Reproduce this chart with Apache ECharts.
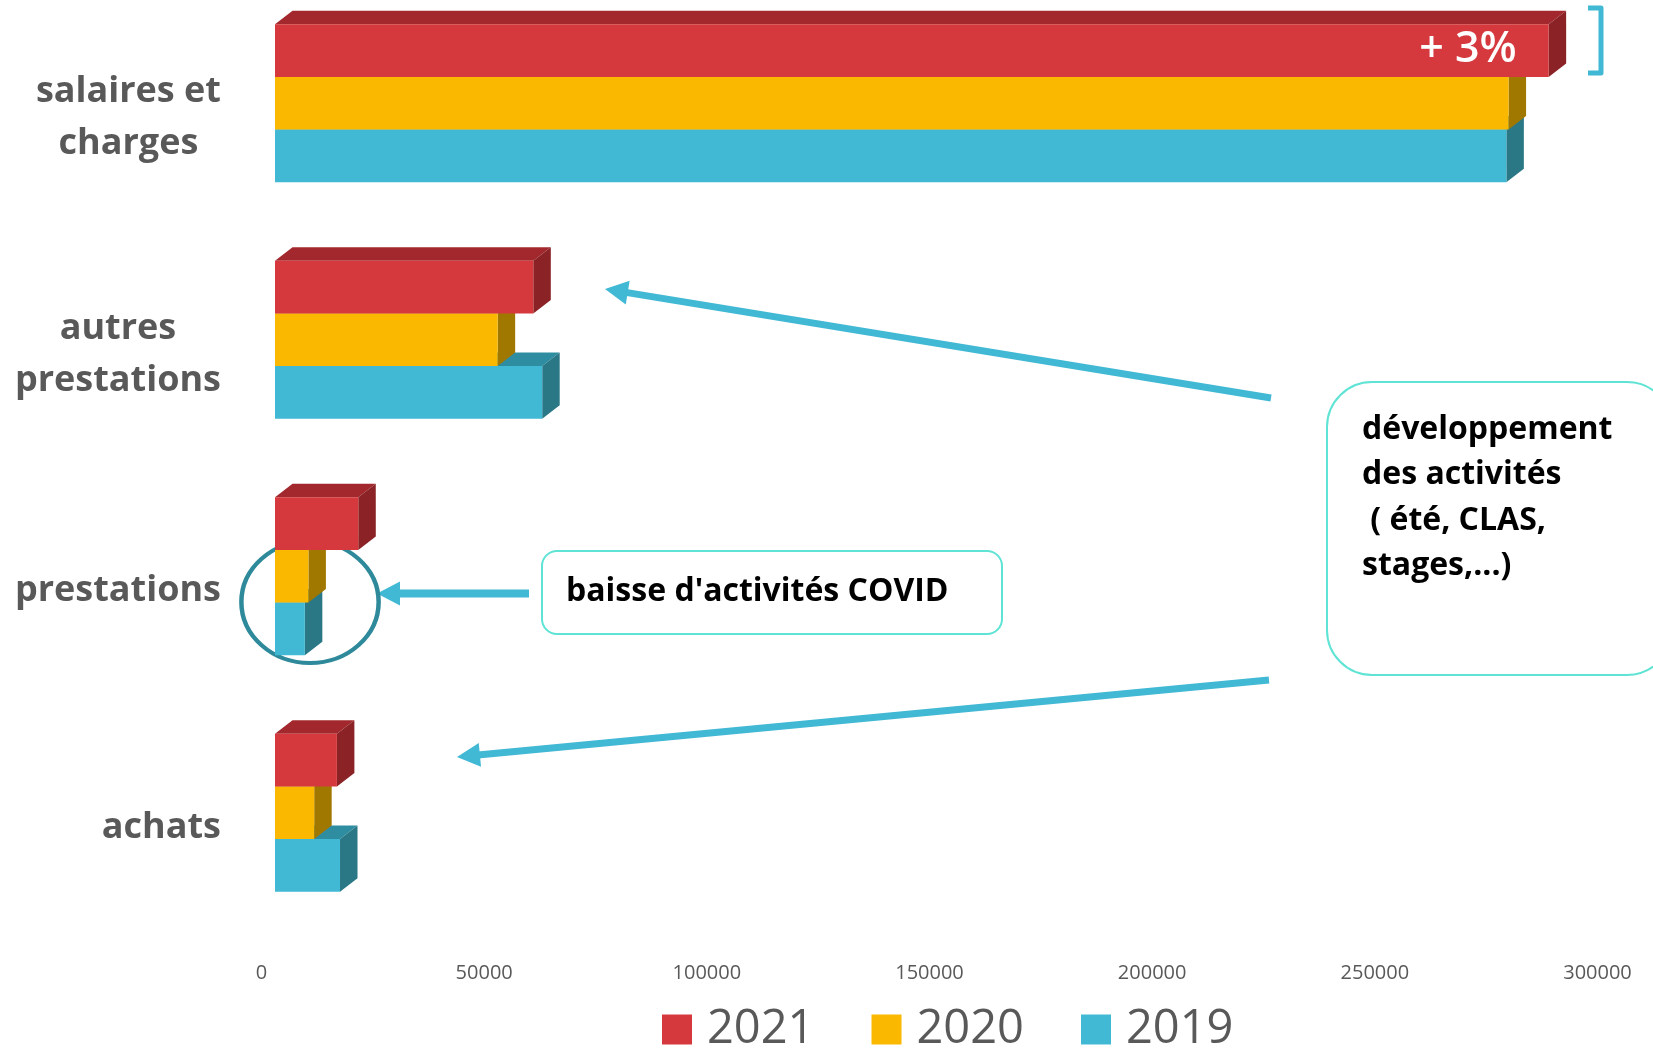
<!DOCTYPE html>
<html>
<head>
<meta charset="utf-8">
<script src="https://cdn.jsdelivr.net/npm/echarts@6/dist/echarts.min.js"></script>
<style>
html, body { margin: 0; padding: 0; background: #fff; }
#chart { width: 1653px; height: 1059px; }
</style>
</head>
<body>
<div id="chart"></div>
<script>
// données
var categories = ['salaires et\ncharges', 'autres\nprestations', 'prestations', 'achats'];
var years = ['2021', '2020', '2019'];
var values2021 = [286000, 58000, 18700, 13900];
var values2020 = [277000, 50000, 7500, 8800];
var values2019 = [276500, 60000, 6700, 14600];
var axisMin = 0, axisMax = 300000, axisStep = 50000;

// couleurs : face, dessus, côté
var colors = {
    '2021': ['#d5383d', '#a2282d', '#8a2226'],
    '2020': ['#fbb800', '#c48f00', '#a07800'],
    '2019': ['#41b9d4', '#2e8da0', '#2a7886']
};

var GAP = 0.332;   // espace entre groupes
var DX = 17.5, DY = 13.5;  // profondeur 3D

function barRender(slot, year) {
    var c = colors[year];
    return function(params, api) {
        var val = api.value(0);
        var cat = api.value(1);
        var start = api.coord([0, cat]);
        var end = api.coord([val, cat]);
        var band = api.size([0, 1])[1];
        var h = band * (1 - GAP) / 3;
        var yT = start[1] - 1.5 * h + slot * h;
        var yB = yT + h;
        var x0 = start[0], x1 = end[0];
        return {
            type: 'group',
            children: [{
                type: 'polygon',
                shape: { points: [[x0, yT], [x1, yT], [x1 + DX, yT - DY], [x0 + DX, yT - DY]] },
                style: { fill: c[1] }
            }, {
                type: 'polygon',
                shape: { points: [[x1, yT], [x1, yB], [x1 + DX, yB - DY], [x1 + DX, yT - DY]] },
                style: { fill: c[2] }
            }, {
                type: 'rect',
                shape: { x: x0, y: yT, width: x1 - x0, height: h },
                style: { fill: c[0] }
            }]
        };
    };
}

function makeSeries(year, slot, values, z) {
    return {
        name: year,
        type: 'custom',
        z: z,
        encode: { x: 0, y: 1 },
        itemStyle: { color: colors[year][0] },
        renderItem: barRender(slot, year),
        data: values.map(function(v, i) { return [v, i]; })
    };
}

// flèches et encadrés
var arrowColor = '#41b8d4';
function arrow(x1, y1, x2, y2, w) {
    var len = Math.sqrt((x2 - x1) * (x2 - x1) + (y2 - y1) * (y2 - y1));
    var ux = (x2 - x1) / len, uy = (y2 - y1) / len;
    var hl = 23, hw = 12;
    var bx = x2 - ux * hl, by = y2 - uy * hl;
    return [{
        type: 'line',
        shape: { x1: x1, y1: y1, x2: bx + ux * 2, y2: by + uy * 2 },
        style: { stroke: arrowColor, lineWidth: w }
    }, {
        type: 'polygon',
        shape: { points: [[x2, y2], [bx - uy * hw, by + ux * hw], [bx + uy * hw, by - ux * hw]] },
        style: { fill: arrowColor }
    }];
}

var graphics = []
    .concat(arrow(1271, 398, 605, 289, 7))
    .concat(arrow(1269, 680, 457, 757, 7))
    .concat(arrow(529, 593.5, 377, 593.5, 8))
    .concat([{
        type: 'circle',
        shape: { cx: 0, cy: 0, r: 61 },
        x: 310, y: 602,
        scaleX: 1.125,
        style: { fill: null, stroke: '#2e8a9a', lineWidth: 4, strokeNoScale: true }
    }, {
        type: 'rect',
        shape: { x: 542, y: 551, width: 460, height: 83, r: 15 },
        style: { fill: '#fff', stroke: '#5fe3d4', lineWidth: 2 }
    }, {
        type: 'text',
        x: 566, y: 592,
        style: {
            text: "baisse d'activités COVID",
            font: 'bold 32px "Open Sans"',
            fill: '#000',
            verticalAlign: 'middle'
        }
    }, {
        type: 'rect',
        shape: { x: 1327, y: 382, width: 345, height: 293, r: 45 },
        style: { fill: '#fff', stroke: '#5fe3d4', lineWidth: 2 }
    }, {
        type: 'text',
        x: 1362, y: 407,
        style: {
            text: 'développement\ndes activités\n ( été, CLAS,\nstages,...)',
            font: 'bold 32px "Open Sans"',
            lineHeight: 45.5,
            fill: '#000'
        }
    }, {
        type: 'text',
        x: 1468, y: 50,
        z: 10,
        style: {
            text: '+ 3%',
            font: '600 43px "Open Sans"',
            fill: '#fff',
            align: 'center',
            verticalAlign: 'middle'
        }
    }, {
        type: 'polyline',
        shape: { points: [[1588, 8], [1601, 8], [1601, 73], [1588, 73]] },
        style: { stroke: arrowColor, lineWidth: 5, lineJoin: 'round', fill: null }
    }]);

var myChart = echarts.init(document.getElementById('chart'));

var option = {
    animation: false,
    grid: {
        left: 275,
        right: 42,
        top: -15,
        bottom: 128,
        containLabel: false,
        outerBoundsMode: 'none'
    },
    legend: {
        data: years,
        left: 657,
        top: 1001,
        icon: 'rect',
        itemWidth: 30,
        itemHeight: 30,
        itemGap: 57,
        textStyle: {
            fontFamily: 'Open Sans',
            fontSize: 47,
            color: '#595959',
            padding: [0, 0, 0, 10]
        }
    },
    xAxis: {
        type: 'value',
        min: axisMin,
        max: axisMax,
        interval: axisStep,
        splitLine: { show: false },
        axisLine: { show: false },
        axisTick: { show: false },
        axisLabel: {
            fontFamily: 'Open Sans',
            fontSize: 20,
            color: '#595959',
            margin: 32,
            padding: [0, 27, 0, 0],
            formatter: function(v) { return String(v); }
        }
    },
    yAxis: {
        type: 'category',
        inverse: true,
        data: categories,
        axisLine: { show: false },
        axisTick: { show: false },
        axisLabel: {
            margin: 54,
            padding: [29, 0, 0, 0],
            formatter: function(v) {
                return v.split('\n').map(function(s) { return '{c|' + s + '}'; }).join('\n');
            },
            rich: {
                c: {
                    align: 'center',
                    fontFamily: 'Open Sans',
                    fontWeight: 'bold',
                    fontSize: 36,
                    lineHeight: 52,
                    color: '#595959'
                }
            }
        }
    },
    series: [
        makeSeries('2021', 0, values2021, 4),
        makeSeries('2020', 1, values2020, 3),
        makeSeries('2019', 2, values2019, 2)
    ],
    graphic: graphics
};

myChart.setOption(option);
</script>
</body>
</html>
